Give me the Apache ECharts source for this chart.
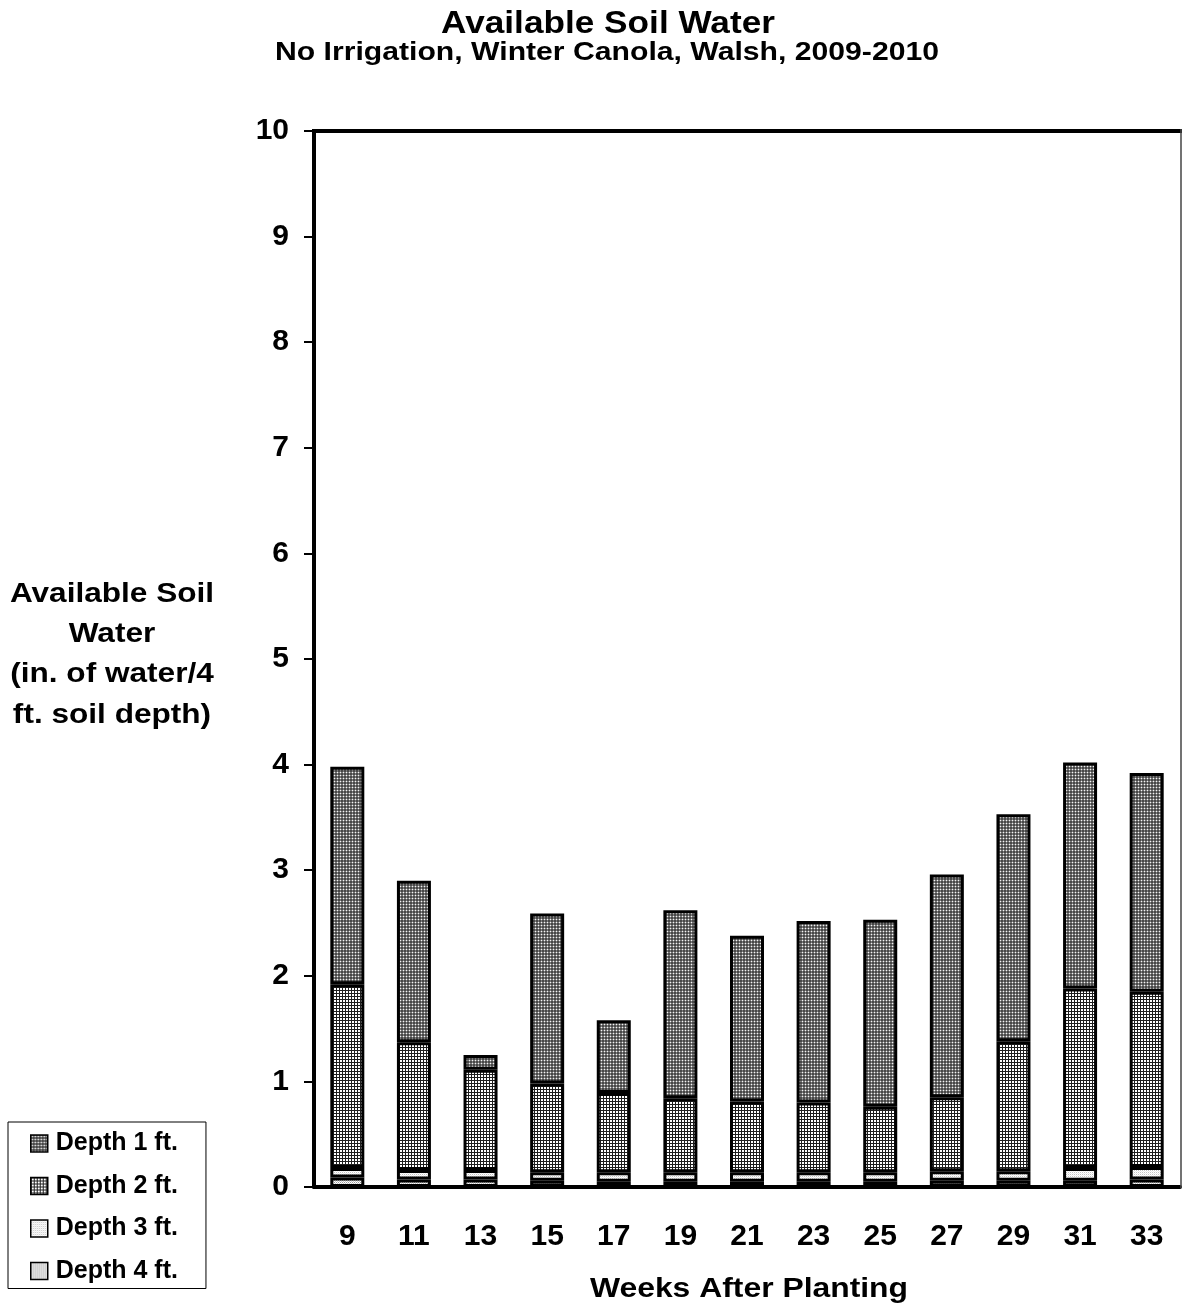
<!DOCTYPE html>
<html>
<head>
<meta charset="utf-8">
<script src="https://cdn.jsdelivr.net/npm/echarts@6/dist/echarts.min.js"></script>
<style>
html,body{margin:0;padding:0;background:#fff;}
#chart{width:1182px;height:1306px;}
</style>
</head>
<body>
<div id="chart"></div>
<script>
const weeks = ['9','11','13','15','17','19','21','23','25','27','29','31','33'];
const depth1 = [2.06, 1.53, 0.14, 1.61, 0.69, 1.78, 1.57, 1.72, 1.77, 2.11, 2.15, 2.14, 2.07];
const depth2 = [1.74, 1.21, 0.95, 0.84, 0.75, 0.70, 0.67, 0.66, 0.62, 0.70, 1.23, 1.70, 1.66];
const depth3 = [0.09, 0.09, 0.09, 0.08, 0.09, 0.09, 0.09, 0.09, 0.09, 0.09, 0.09, 0.12, 0.12];
const depth4 = [0.09, 0.07, 0.07, 0.06, 0.05, 0.05, 0.05, 0.05, 0.05, 0.06, 0.06, 0.06, 0.07];
const seriesNames = ['Depth 1 ft.', 'Depth 2 ft.', 'Depth 3 ft.', 'Depth 4 ft.'];
const yTicks = [0,1,2,3,4,5,6,7,8,9,10];

function makePattern(size, cells) {
  const c = document.createElement('canvas');
  c.width = size; c.height = size;
  const ctx = c.getContext('2d');
  for (let y = 0; y < size; y++) {
    for (let x = 0; x < size; x++) {
      ctx.fillStyle = cells[y][x];
      ctx.fillRect(x, y, 1, 1);
    }
  }
  return { image: c, repeat: 'repeat' };
}
const W = '#ffffff';
const pat1 = makePattern(3, [
  ['#484848', '#7c7c7c', '#484848'],
  ['#7c7c7c', '#f4f4f4', '#7c7c7c'],
  ['#484848', '#7c7c7c', '#484848']
]);
const pat2 = makePattern(3, [
  ['#1e1e1e', '#1e1e1e', '#1e1e1e'],
  ['#1e1e1e', W, W],
  ['#1e1e1e', W, W]
]);
const pat3 = makePattern(2, [
  ['#c4c4c4', W],
  [W, '#ececec']
]);
const pat4 = makePattern(2, [
  ['#9a9a9a', W],
  [W, '#c8c8c8']
]);
const pats = [pat1, pat2, pat3, pat4];
const dataSets = [depth1, depth2, depth3, depth4];

const font = '"Liberation Sans", Arial, sans-serif';
const chart = echarts.init(document.getElementById('chart'), null, {renderer: 'canvas'});

const series = [];
for (let i = 3; i >= 0; i--) {
  series.push({
    name: seriesNames[i],
    type: 'bar',
    stack: 'soil',
    barWidth: 34,
    data: dataSets[i],
    itemStyle: { color: pats[i], borderColor: '#000', borderWidth: 3 },
    emphasis: { disabled: true },
    animation: false
  });
}

function stretchedText(x, y, text, size, sx) {
  return { type: 'text', x: x, y: y, scaleX: sx, z: 20,
    style: { text: text, x: 0, y: 0, textAlign: 'center', textVerticalAlign: 'middle',
             fontSize: size, fontWeight: 'bold', fill: '#000', fontFamily: font } };
}

chart.setOption({
  animation: false,
  backgroundColor: '#fff',
  textStyle: { fontFamily: font },
  grid: { left: 314, top: 131, width: 866, height: 1056, show: false, containLabel: false },
  legend: {
    orient: 'vertical', left: 8, top: 1122,
    data: seriesNames,
    itemWidth: 17, itemHeight: 17, itemGap: 15.5,
    borderColor: '#000', borderWidth: 1,
    padding: [8, 28, 4, 22],
    icon: 'rect',
    itemStyle: { borderWidth: 1.5, borderColor: '#000' },
    textStyle: { fontSize: 25, lineHeight: 27, fontWeight: 'bold', color: '#000', fontFamily: font, padding: [0,0,0,3] }
  },
  xAxis: {
    type: 'category', data: weeks,
    axisLine: { show: true, lineStyle: { color: '#000', width: 4 } },
    axisTick: { show: false },
    axisLabel: { margin: 35, fontSize: 30, fontWeight: 'bold', color: '#000', fontFamily: font }
  },
  yAxis: {
    type: 'value', min: 0, max: 10, interval: 1,
    axisLine: { show: true, lineStyle: { color: '#000', width: 4 } },
    axisTick: { show: true, length: 10, lineStyle: { color: '#000', width: 2 } },
    splitLine: { show: false },
    axisLabel: { margin: 25, fontSize: 30, fontWeight: 'bold', color: '#000', fontFamily: font,
                 formatter: v => (yTicks.indexOf(v) >= 0 ? String(v) : '') }
  },
  graphic: [
    { type: 'line', shape: { x1: 312, y1: 131, x2: 1182, y2: 131 }, style: { stroke: '#000', lineWidth: 4 }, z: 10 },
    { type: 'line', shape: { x1: 1181, y1: 129, x2: 1181, y2: 1188 }, style: { stroke: '#444', lineWidth: 1.5 }, z: 10 },
    stretchedText(608, 24, 'Available Soil Water', 32, 1.1),
    stretchedText(607, 53, 'No Irrigation, Winter Canola, Walsh, 2009-2010', 26, 1.16),
    stretchedText(112, 595, 'Available Soil', 27, 1.17),
    stretchedText(112, 635, 'Water', 27, 1.17),
    stretchedText(112, 675, '(in. of water/4', 27, 1.17),
    stretchedText(112, 716, 'ft. soil depth)', 27, 1.17),
    stretchedText(749, 1290, 'Weeks After Planting', 27, 1.18)
  ],
  series: series
});
</script>
</body>
</html>
